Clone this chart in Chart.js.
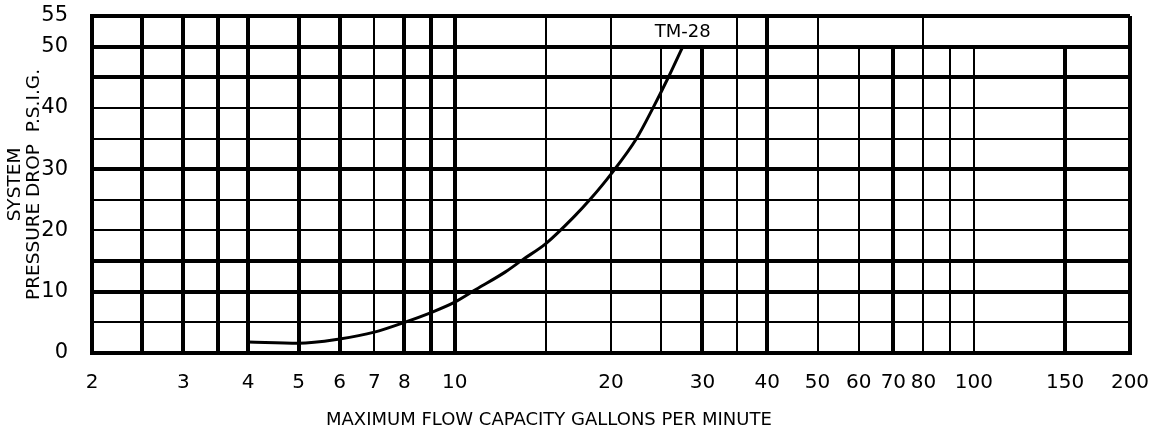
<!DOCTYPE html>
<html>
<head>
<meta charset="utf-8">
<script src="https://cdn.jsdelivr.net/npm/chart.js@4"></script>
<style>
  body { margin: 0; background: #fff; }
  #wrap { width: 1152px; height: 428px; }
</style>
</head>
<body>
<div id="wrap"><canvas id="flowChart"></canvas></div>
<script>
// Curve TM-28: flow (gpm) vs system pressure drop (psig)
const flow = [4, 5, 6, 7, 8, 9, 10, 11, 12.5, 13.5, 15, 17, 18.2, 20, 22.4, 24.1, 25.8, 27.5];
const drop = [1.8, 1.6, 2.3, 3.4, 5, 6.6, 8.3, 10.4, 13.2, 15.2, 17.9, 22.3, 25, 29.2, 35, 40, 45, 50];
const curveName = 'TM-28';

// Grid and tick values
const gridX = [2, 2.5, 3, 3.5, 4, 5, 6, 7, 8, 9, 10, 15, 20, 25, 30, 35, 40, 50, 60, 70, 80, 90, 100, 150, 200];
const labelX = [2, 3, 4, 5, 6, 7, 8, 10, 20, 30, 40, 50, 60, 70, 80, 100, 150, 200];
const thickX = [2, 2.5, 3, 3.5, 4, 5, 6, 8, 9, 10, 30, 40, 70, 150, 200];
const shortX = [25, 30, 60, 70, 90, 100, 150]; // these stop at 50 psig
const labelY = [0, 10, 20, 30, 40, 50, 55];
const thickY = [0, 10, 15, 30, 45, 50, 55];

const xTitle = 'MAXIMUM FLOW CAPACITY GALLONS PER MINUTE';
const yTitle = ['SYSTEM', 'PRESSURE DROP  P.S.I.G.'];

Chart.defaults.color = '#000';
Chart.defaults.font.family = 'DejaVu Sans';

const extras = {
  id: 'extras',
  beforeDatasetsDraw(chart) {
    const { ctx, chartArea, scales: { x, y } } = chart;
    ctx.save();
    ctx.strokeStyle = '#000';
    shortX.forEach(v => {
      const px = Math.round(x.getPixelForValue(v));
      ctx.lineWidth = thickX.includes(v) ? 4 : 2;
      ctx.beginPath();
      ctx.moveTo(px, y.getPixelForValue(50));
      ctx.lineTo(px, chartArea.bottom);
      ctx.stroke();
    });
    ctx.restore();
  },
  afterDraw(chart) {
    const { ctx, chartArea, scales: { x, y } } = chart;
    ctx.save();
    ctx.fillStyle = '#000';
    ctx.textBaseline = 'middle';
    // curve name above the end of the curve
    ctx.font = '18px DejaVu Sans';
    ctx.textAlign = 'center';
    ctx.fillText(curveName, x.getPixelForValue(flow[flow.length - 1]), y.getPixelForValue(52.3));
    // x axis title, sits left of centre in the original
    ctx.textAlign = 'left';
    ctx.fillText(xTitle, chartArea.left + 234, chartArea.bottom + 67);
    ctx.restore();
  }
};

const ctxFlow = document.getElementById('flowChart').getContext('2d');
const flowChart = new Chart(ctxFlow, {
  type: 'scatter',
  data: {
    datasets: [{
      label: curveName,
      data: flow.map((f, i) => ({ x: f, y: drop[i] })),
      showLine: true,
      borderColor: '#000',
      borderWidth: 3,
      pointRadius: 0,
      cubicInterpolationMode: 'monotone',
      fill: false
    }]
  },
  options: {
    responsive: true,
    maintainAspectRatio: false,
    animation: false,
    layout: { padding: { top: 16, right: 22, left: 0, bottom: 0 } },
    plugins: { legend: { display: false }, tooltip: { enabled: false } },
    scales: {
      x: {
        type: 'logarithmic',
        min: 2,
        max: 200,
        afterBuildTicks: scale => { scale.ticks = gridX.map(v => ({ value: v })); },
        afterFit: scale => {
          scale.height = 75;
          scale.paddingLeft = 0;
          scale.paddingRight = 0;
        },
        border: { color: '#000', width: 4 },
        grid: {
          drawTicks: false,
          color: c => shortX.includes(c.tick.value) ? 'rgba(0,0,0,0)' : '#000',
          lineWidth: c => thickX.includes(c.tick.value) ? 4 : 2
        },
        ticks: {
          autoSkip: false,
          maxRotation: 0,
          padding: 18,
          font: { size: 20 },
          callback: v => labelX.includes(v) ? String(v) : ''
        }
      },
      y: {
        min: 0,
        max: 55,
        afterFit: scale => {
          scale.width = 92;
          scale.paddingTop = 0;
          scale.paddingBottom = 0;
        },
        border: { color: '#000', width: 4 },
        grid: {
          drawTicks: false,
          color: '#000',
          lineWidth: c => thickY.includes(c.tick.value) ? 4 : 2
        },
        ticks: {
          stepSize: 5,
          padding: 24,
          font: { size: 21 },
          callback: v => labelY.includes(v) ? String(v) : ''
        },
        title: {
          display: true,
          text: yTitle,
          font: { size: 18.5, lineHeight: '19px' },
          padding: { top: 6, bottom: 0 }
        }
      }
    }
  },
  plugins: [extras]
});
</script>
</body>
</html>
